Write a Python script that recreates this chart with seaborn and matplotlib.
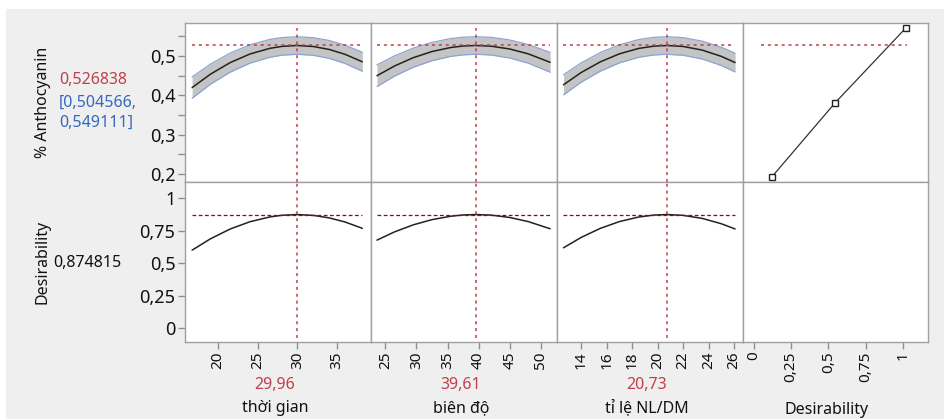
import numpy as np
import matplotlib
matplotlib.use("Agg")
import matplotlib.pyplot as plt
import matplotlib.ticker as mticker
from matplotlib.patches import Rectangle
import seaborn as sns

# --- du lieu doc tu hinh (prediction profiler) ---
factor_names = ["thời gian", "biên độ", "tỉ lệ NL/DM"]
factor_current = [29.96, 39.61, 20.73]
factor_current_lbl = ["29,96", "39,61", "20,73"]

x_tg = [16.7, 19, 21.5, 24, 26.5, 28, 29.96, 32, 34, 36, 38.2]
y_tg = [0.4199, 0.4538, 0.4833, 0.5052, 0.5195, 0.5245, 0.5268, 0.5243, 0.5169, 0.5046, 0.4855]
hw_tg = [0.0270, 0.0255, 0.0242, 0.0233, 0.0226, 0.0224, 0.0223, 0.0224, 0.0227, 0.0233, 0.0241]
d_tg = [0.6011, 0.6879, 0.7634, 0.8195, 0.8561, 0.8689, 0.8748, 0.8684, 0.8495, 0.8180, 0.7691]

x_bd = [23.66, 26.5, 29.5, 32.5, 35.5, 37.5, 39.61, 42, 45, 48, 51.5]
y_bd = [0.4500, 0.4749, 0.4959, 0.5115, 0.5217, 0.5255, 0.5268, 0.5251, 0.5180, 0.5055, 0.4841]
hw_bd = [0.0275, 0.0257, 0.0243, 0.0233, 0.0226, 0.0224, 0.0223, 0.0224, 0.0229, 0.0237, 0.0251]
d_bd = [0.6782, 0.7419, 0.7957, 0.8356, 0.8617, 0.8715, 0.8748, 0.8704, 0.8523, 0.8203, 0.7655]

x_tl = [12.61, 14, 15.5, 17, 18.5, 19.7, 20.73, 22, 23.5, 25, 26.08]
y_tl = [0.4270, 0.4582, 0.4853, 0.5057, 0.5193, 0.5252, 0.5268, 0.5244, 0.5152, 0.4992, 0.4835]
hw_tl = [0.0255, 0.0245, 0.0236, 0.0230, 0.0225, 0.0224, 0.0223, 0.0224, 0.0227, 0.0232, 0.0237]
d_tl = [0.6193, 0.6992, 0.7686, 0.8208, 0.8556, 0.8707, 0.8748, 0.8687, 0.8451, 0.8041, 0.7640]

# ham desirability (x = desirability, y = % anthocyanin)
des_x = [0.12, 0.545, 1.02]
des_y = [0.193, 0.381, 0.571]

pred = 0.526838
pred_lbl = "0,526838"
ci_lbl = ["[0,504566,", "0,549111]"]
desir = 0.874815
desir_lbl = "0,874815"

x_lims = [(15.8, 39.3), (22.7, 52.6), (12.1, 26.7), (-0.074, 1.17)]
x_ticks = [[20, 25, 30, 35], [25, 30, 35, 40, 45, 50],
           [14, 16, 18, 20, 22, 24, 26], [0, 0.25, 0.5, 0.75, 1]]

sns.set_theme(style="white")
plt.rcParams["font.family"] = ["Noto Sans", "DejaVu Sans"]

W, H = 945, 419
fig = plt.figure(figsize=(W / 100, H / 100), dpi=100, facecolor="white")
fig.patches.append(Rectangle((6 / W, 0), 1, 1 - 9 / H, transform=fig.transFigure,
                             facecolor="#efefef", edgecolor="none", zorder=-10))

RED = "#c0404a"
DRED = "#a00010"
BLUE = "#3567c0"
SPINE = "#a0a0a0"
FS = 11.5

def comma(v, _=None):
    return f"{v:g}".replace(".", ",")

col_x = [185, 371, 557, 743, 928]
rows = [(23, 182), (182, 342)]

data = [(x_tg, y_tg, hw_tg, d_tg), (x_bd, y_bd, hw_bd, d_bd), (x_tl, y_tl, hw_tl, d_tl)]

axes = [[None] * 4 for _ in range(2)]
for r, (yt, yb) in enumerate(rows):
    for c in range(4):
        ax = fig.add_axes([col_x[c] / W, 1 - yb / H, (col_x[c + 1] - col_x[c]) / W, (yb - yt) / H])
        ax.set_facecolor("white")
        for s in ax.spines.values():
            s.set_color(SPINE)
            s.set_linewidth(1)
        ax.set_xlim(*x_lims[c])
        ax.set_xticks(x_ticks[c])
        ax.xaxis.set_major_formatter(mticker.FuncFormatter(comma))
        if r == 0:
            ax.set_ylim(0.18, 0.584)
            ax.set_yticks([0.2, 0.3, 0.4, 0.5])
            ax.set_yticks([0.25, 0.35, 0.45, 0.55], minor=True)
        else:
            ax.set_ylim(-0.105, 1.125)
            ax.set_yticks([0, 0.25, 0.5, 0.75, 1])
        ax.yaxis.set_major_formatter(mticker.FuncFormatter(comma))
        ax.tick_params(axis="both", which="both", direction="out", length=5, width=1,
                       color="#909090", labelcolor="#111111", pad=2)
        ax.tick_params(axis="x", labelsize=11, labelrotation=90)
        ax.tick_params(axis="y", labelsize=13)
        if c > 0:
            ax.tick_params(axis="y", which="both", left=False, labelleft=False)
        else:
            ax.tick_params(axis="y", which="both", left=True, labelleft=True)
        if r == 0:
            ax.tick_params(axis="x", which="both", bottom=False, labelbottom=False)
        else:
            ax.tick_params(axis="x", which="both", bottom=True, labelbottom=True)
        axes[r][c] = ax

for c, (xs, ys, hws, ds) in enumerate(data):
    xs = np.array(xs)
    ys = np.array(ys)
    hws = np.array(hws)
    ax = axes[0][c]
    ax.fill_between(xs, ys - hws, ys + hws, color="#c4c4c4", lw=0)
    sns.lineplot(x=xs, y=ys + hws, ax=ax, color="#8aa4d6", lw=0.9)
    sns.lineplot(x=xs, y=ys - hws, ax=ax, color="#8aa4d6", lw=0.9)
    sns.lineplot(x=xs, y=ys, ax=ax, color="#222222", lw=1.1)
    ax.hlines(pred, xs[0], xs[-1], color=RED, lw=1.1, linestyles=(0, (2, 2.5)))
    ax.axvline(factor_current[c], ymin=0, ymax=0.97, color=RED, lw=1.1, ls=(0, (2, 2.5)))

    ax2 = axes[1][c]
    sns.lineplot(x=xs, y=ds, ax=ax2, color="#222222", lw=1.1)
    ax2.hlines(desir, xs[0], xs[-1], color=DRED, lw=0.9, linestyles=(0, (3, 2)))
    ax2.axvline(factor_current[c], ymin=0.025, ymax=1, color=RED, lw=1.1, ls=(0, (2, 2.5)))

ax = axes[0][3]
sns.lineplot(x=des_x, y=des_y, ax=ax, color="#333333", lw=0.9, marker="s", markersize=5,
             markerfacecolor="white", markeredgecolor="#222222", markeredgewidth=1)
ax.hlines(pred, 0.05, 1.03, color=RED, lw=1.1, linestyles=(0, (2, 2.5)))

for r in range(2):
    for c in range(4):
        axes[r][c].set_xlabel("")
        axes[r][c].set_ylabel("")

# nhan truc x
for c in range(4):
    xc = (col_x[c] + col_x[c + 1]) / 2 - 3
    if c < 3:
        fig.text(xc / W, 1 - 385 / H, factor_current_lbl[c], color=RED, fontsize=FS,
                 ha="center", va="center")
        fig.text(xc / W, 1 - 408 / H, factor_names[c], color="#111111", fontsize=FS,
                 ha="center", va="center")
    else:
        fig.text((xc - 6) / W, 1 - 410 / H, "Desirability", color="#111111", fontsize=FS,
                 ha="center", va="center")

# nhan truc y
fig.text(43 / W, 1 - 102 / H, "% Anthocyanin", rotation=90, fontsize=FS,
         ha="center", va="center", color="#111111")
fig.text(59 / W, 1 - 80 / H, pred_lbl, color=RED, fontsize=FS, ha="left", va="center")
fig.text(59 / W, 1 - 103 / H, ci_lbl[0], color=BLUE, fontsize=FS, ha="left", va="center")
fig.text(59 / W, 1 - 123 / H, ci_lbl[1], color=BLUE, fontsize=FS, ha="left", va="center")
fig.text(43 / W, 1 - 262 / H, "Desirability", rotation=90, fontsize=FS,
         ha="center", va="center", color="#111111")
fig.text(53 / W, 1 - 263 / H, desir_lbl, color="#111111", fontsize=FS, ha="left", va="center")

fig.savefig("out.png", dpi=100, facecolor=fig.get_facecolor())
